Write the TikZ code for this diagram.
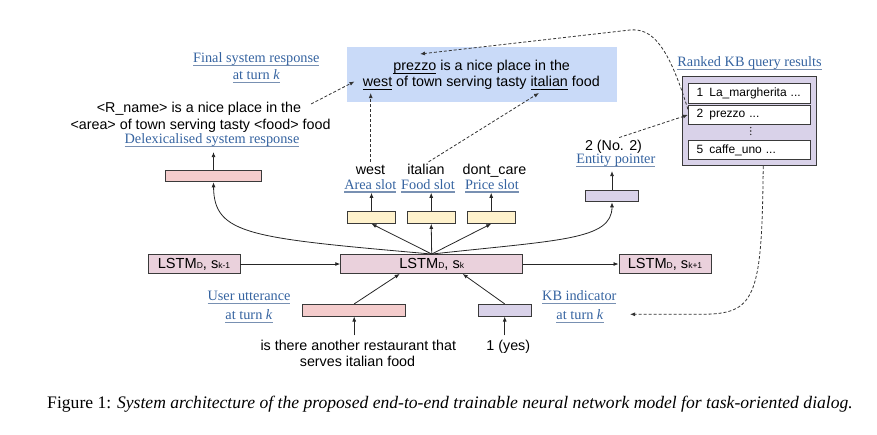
\documentclass[tikz,border=0pt]{standalone}
\usepackage{fontspec}
\setmainfont{Liberation Serif}
\setsansfont{Liberation Sans}
\usetikzlibrary{arrows.meta}
\definecolor{pinkfill}{HTML}{F4CCCC}
\definecolor{lstmfill}{HTML}{EAD1DC}
\definecolor{yelfill}{HTML}{FFF2CC}
\definecolor{lavfill}{HTML}{D9D2E9}
\definecolor{bluebg}{HTML}{C9DAF8}
\definecolor{labelblue}{HTML}{3563A0}
\definecolor{ulblue}{HTML}{7890B2}
\definecolor{edge}{HTML}{3A3A3A}
\newcommand\ulc[3][1.3pt]{\sbox0{#3}\rlap{\textcolor{#2}{\rule[-3.6pt]{\wd0}{#1}}}\usebox0}
\begin{document}
\begin{tikzpicture}[x=1pt,y=-1pt,
  txt/.style={font=\sffamily\fontsize{14.3}{17}\selectfont, inner sep=0pt, anchor=base},
  small/.style={font=\sffamily\fontsize{12}{14}\selectfont},
  lbl/.style={font=\rmfamily\fontsize{14.3}{17}\selectfont, text=labelblue, inner sep=0pt, anchor=base},
  boxbase/.style={draw=edge, line width=0.9pt, inner sep=0pt, minimum height=11.7pt},
  pinkbox/.style={boxbase, fill=pinkfill},
  yelbox/.style={boxbase, fill=yelfill, minimum width=48pt},
  lavbox/.style={boxbase, fill=lavfill},
  lstmbox/.style={boxbase, fill=lstmfill, minimum height=19pt, font=\sffamily\fontsize{14.6}{17}\selectfont},
  kbitem/.style={draw=edge, line width=0.9pt, fill=white, minimum width=121.7pt, text width=105pt, align=left, inner xsep=8.35pt, inner ysep=0pt, small},
  arr/.style={line width=0.8pt, draw=black!85, -{Latex[length=5pt,width=4pt]}},
  dasharr/.style={line width=0.8pt, draw=black!80, dash pattern=on 3pt off 2pt, -{Latex[length=5pt,width=4pt]}}
]
\useasboundingbox (0,0) rectangle (877,434);

% ---------- final response (blue box)
\node[fill=bluebg, minimum width=270pt, minimum height=54.4pt, inner sep=0pt] (final) at (482.3,74.5) {};
\node[txt] (fin1) at (481.7,70) {\ulc[0.9pt]{black}{prezzo} is a nice place in the};
\node[txt] (fin2) at (481.3,86.7) {\ulc[0.9pt]{black}{west} of town serving tasty \ulc[0.9pt]{black}{italian} food};
\coordinate (prezw) at (420,54);
\coordinate (westw) at (370.7,93);
\coordinate (italw) at (539,93);
\coordinate (finleft) at (354.5,81.5);

\node[lbl] (finlbl1) at (256.3,62.5) {\ulc{ulblue}{Final system response}};
\node[lbl] (finlbl2) at (256.3,79.3) {\ulc{ulblue}{at turn \textit{k}}};

% ---------- delexicalised response
\node[txt] (delex1) at (199,112.7) {<R\_name> is a nice place in the};
\node[txt] (delex2) at (200.5,129.3) {<area> of town serving tasty <food> food};
\node[lbl] (delexlbl) at (212,143.3) {\ulc{ulblue}{Delexicalised system response}};
\node[pinkbox, minimum width=96pt] (delexbox) at (213.5,176) {};

% ---------- LSTMs
\node[lstmbox, minimum width=92pt] (lstmL) at (194,264) {LSTM\raisebox{-0.5pt}{\fontsize{8.5}{9}\selectfont D}, s\raisebox{-0.5pt}{\fontsize{8.5}{9}\selectfont k-1}};
\node[lstmbox, minimum width=182pt] (lstmM) at (431.7,264) {LSTM\raisebox{-0.5pt}{\fontsize{8.5}{9}\selectfont D}, s\raisebox{-0.5pt}{\fontsize{8.5}{9}\selectfont k}};
\node[lstmbox, minimum width=92pt] (lstmR) at (665,264) {LSTM\raisebox{-0.5pt}{\fontsize{8.5}{9}\selectfont D}, s\raisebox{-0.5pt}{\fontsize{8.5}{9}\selectfont k+1}};

% ---------- slots
\node[txt] (vwest) at (370.5,174) {west};
\node[txt] (vital) at (426,174) {italian};
\node[txt] (vcare) at (494.5,174) {dont\_care};
\node[lbl] (lwest) at (370.3,189) {\ulc{ulblue}{Area slot}};
\node[lbl] (lital) at (428,189) {\ulc{ulblue}{Food slot}};
\node[lbl] (lcare) at (492,189) {\ulc{ulblue}{Price slot}};
\node[yelbox] (bwest) at (371.5,217.5) {};
\node[yelbox] (bital) at (431.2,217.5) {};
\node[yelbox] (bcare) at (491.2,217.5) {};

% ---------- entity pointer
\node[txt] (entval) at (613.5,150) {2 (No. 2)};
\node[lbl] (entlbl) at (615.8,163.3) {\ulc{ulblue}{Entity pointer}};
\node[lavbox, minimum width=52.6pt] (entbox) at (612,196) {};

% ---------- KB results
\node[lbl] (kbtitle) at (749.5,66.7) {\ulc{ulblue}{Ranked KB query results}};
\node[lavbox, minimum width=133.7pt, minimum height=89.7pt] (kb) at (749.2,120.9) {};
\node[kbitem, minimum height=20pt] (kb1) at (749.2,93.3) {1\,\ La\_margherita ...};
\node[kbitem, minimum height=18.3pt] (kb2) at (749.2,114.9) {2\,\ prezzo ...};
\node[kbitem, minimum height=18.3pt] (kb5) at (749.2,149.9) {5\,\ caffe\_uno ...};
\fill[black!80] (750.7,127.6) circle (0.8) (750.7,131) circle (0.8) (750.7,134.4) circle (0.8);

% ---------- inputs
\node[lbl] (ulbl1) at (249,300.7) {\ulc{ulblue}{User utterance}};
\node[lbl] (ulbl2) at (249,319.3) {\ulc{ulblue}{at turn \textit{k}}};
\node[lbl] (kblbl1) at (579.3,300.7) {\ulc{ulblue}{KB indicator}};
\node[lbl] (kblbl2) at (580,319.3) {\ulc{ulblue}{at turn \textit{k}}};
\node[pinkbox, minimum width=103pt] (ubox) at (354.2,310.2) {};
\node[lavbox, minimum width=52.7pt] (kbbox) at (504.7,310.2) {};
\node[txt] (utext1) at (358.3,350) {is there another restaurant that};
\node[txt] (utext2) at (357.5,366) {serves italian food};
\node[txt] (yes) at (508.3,350) {1 (yes)};
\coordinate (kbin) at (630,314.3);

% ---------- caption
\node[font=\rmfamily\fontsize{17.6}{20}\selectfont, inner sep=0pt, anchor=base] (cap) at (450,408.5) {Figure 1: \textit{System architecture of the proposed end-to-end trainable neural network model for task-oriented dialog.}};

% ---------- solid connectors
\draw[arr] (lstmL.east) -- (lstmM.west);
\draw[arr] (lstmM.east) -- (lstmR.west);
\draw[arr] (lstmM.north) -- (bwest.south);
\draw[arr] (lstmM.north) -- (bital.south);
\draw[arr] (lstmM.north) -- (bcare.south);
\draw[arr] (lstmM.north) .. controls (250,238) and (214,235) .. (delexbox.south);
\draw[arr] (lstmM.north) .. controls (560,240) and (612,240) .. (entbox.south);
\draw[arr] (bwest.north) -- (bwest.north |- lwest.south);
\draw[arr] (bital.north) -- (bital.north |- lital.south);
\draw[arr] (bcare.north) -- (bcare.north |- lcare.south);
\draw[arr, shorten >=5pt] (delexbox.north) -- (delexbox.north |- delexlbl.south);
\draw[arr, shorten >=4pt] (entbox.north) -- (entbox.north |- entlbl.south);
\draw[arr] (ubox.north) -- ([xshift=-32pt]lstmM.south);
\draw[arr] (kbbox.north) -- ([xshift=31pt]lstmM.south);
\draw[arr, shorten <=4pt] (ubox.south |- utext1.north) -- (ubox.south);
\draw[arr, shorten <=4pt] (kbbox.south |- yes.north) -- (kbbox.south);

% ---------- dashed connectors
\draw[dasharr, shorten <=3pt] (vwest.north -| westw) -- (westw);
\draw[dasharr, shorten <=3pt] (vital.north) -- (italw);
\draw[dasharr, shorten <=11pt] (delex1.east) -- (finleft);
\draw[dasharr, shorten <=6pt] (entval.north) -- (kb2.west);
\draw[dasharr] ([yshift=-4pt]kb2.north west) .. controls (668,45) and (652,28) .. (630,30) -- (prezw);
\draw[dasharr] ([xshift=14pt]kb.south) .. controls (762,300) and (755,314.3) .. (700,314.3) -- (kbin);
\end{tikzpicture}
\end{document}
